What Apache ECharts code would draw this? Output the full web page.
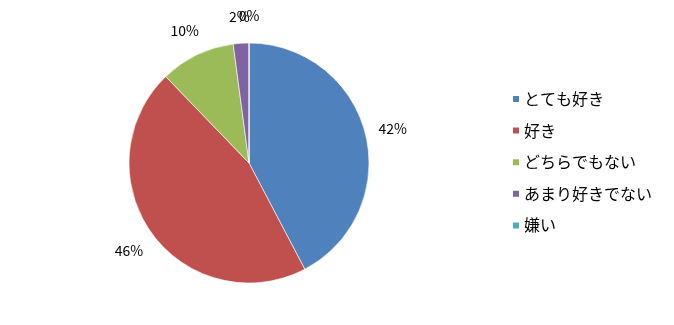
<!DOCTYPE html>
<html><head><meta charset="utf-8">
<script src="https://cdn.jsdelivr.net/npm/echarts@6/dist/echarts.min.js"></script>
<style>html,body{margin:0;padding:0;background:#fff}#c{width:674px;height:325px}</style>
</head><body><div id="c"></div>
<script>
const categories = ['とても好き', '好き', 'どちらでもない', 'あまり好きでない', '嫌い'];
const values = [42.3, 45.5, 10.1, 2.1, 0];
const colors = ['#4F81BD', '#C0504D', '#9BBB59', '#8064A2', '#4BACC6'];
const font = '"MS Gothic","Noto Sans CJK JP",sans-serif';
const CX = 249, CY = 163, R = 120, LABEL_R = 148;
const total = values.reduce((a, b) => a + b, 0);
const chart = echarts.init(document.getElementById('c'), null, {renderer: 'canvas'});
chart.setOption({
  animation: false,
  color: colors,
  legend: {
    orient: 'vertical', left: 506, top: 86,
    itemWidth: 8, itemHeight: 8, itemGap: 15.6, icon: 'rect',
    textStyle: {fontFamily: font, fontSize: 16, color: '#000', padding: [0,0,0,-1]},
    data: categories
  },
  series: [{
    type: 'pie', center: [CX, CY], radius: R, startAngle: 90, clockwise: true,
    avoidLabelOverlap: false, stillShowZeroSum: true, minShowLabelAngle: -1,
    itemStyle: {borderColor: '#fff', borderWidth: 0.6},
    label: {show: true, position: 'outside', fontFamily: font, fontSize: 14, color: '#000',
      formatter: p => Math.round(p.percent) + '%'},
    labelLine: {show: false, length: 10, length2: 2},
    labelLayout: function (p) {
      let cum = 0;
      for (let i = 0; i < p.dataIndex; i++) cum += values[i];
      const mid = (cum + values[p.dataIndex] / 2) / total * Math.PI * 2;
      return {
        x: CX + LABEL_R * Math.sin(mid),
        y: CY + 1 - LABEL_R * Math.cos(mid),
        align: 'center', verticalAlign: 'middle'
      };
    },
    data: categories.map((n, i) => ({name: n, value: values[i]}))
  }]
});
</script></body></html>
